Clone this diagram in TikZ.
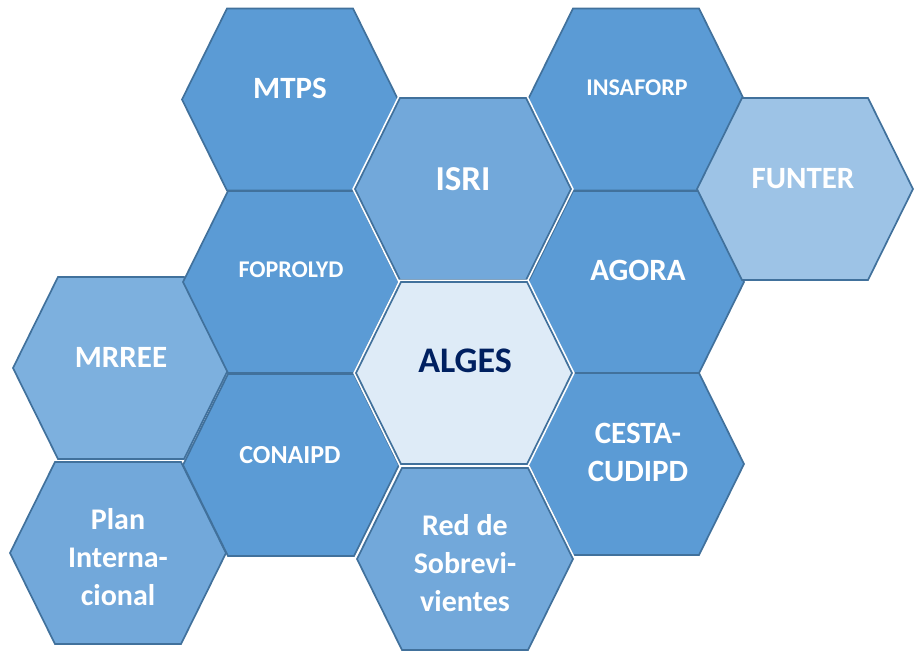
\documentclass[tikz,border=0pt]{standalone}
\usepackage{fontspec}
\setmainfont{Carlito}

\definecolor{borda}{HTML}{41719C}
\definecolor{azulA}{HTML}{5B9BD5}
\definecolor{azulB}{HTML}{72A8DA}
\definecolor{azulC}{HTML}{7DB0DE}
\definecolor{azulD}{HTML}{9DC3E6}
\definecolor{azulE}{HTML}{DEEBF7}
\definecolor{marinho}{HTML}{002060}

% hexagono: centro x, centro y, estilo
\newcommand{\hexagono}[3]{%
  \filldraw[#3] (#1-108,#2) -- (#1-63,#2-91) -- (#1+63,#2-91) -- (#1+108,#2)
    -- (#1+63,#2+91) -- (#1-63,#2+91) -- cycle;}

\begin{document}
\begin{tikzpicture}[x=1pt, y=-1pt,
  hex/.style={draw=borda, line width=1.7pt, line join=miter},
  realce/.style={hex, preaction={draw=white, line width=5pt}},
  rotulo/.style={text=white, align=center, font=\bfseries\fontsize{31}{38}\selectfont}]

\useasboundingbox (0,0) rectangle (917,651);

% Coluna da esquerda
\hexagono{121}{368}{hex, fill=azulC}
\hexagono{118}{553}{hex, fill=azulB}

% Segunda coluna
\hexagono{290}{99.5}{hex, fill=azulA}
\hexagono{291}{282}{hex, fill=azulA}
\hexagono{291}{465}{hex, fill=azulA}

% Quarta coluna
\hexagono{636}{99.5}{hex, fill=azulA}
\hexagono{636}{282}{hex, fill=azulA}
\hexagono{636}{464}{hex, fill=azulA}
\hexagono{805}{189}{hex, fill=azulD}

% Coluna central
\hexagono{463}{189}{realce, fill=azulB}
\hexagono{464}{373}{realce, fill=azulE}
\hexagono{465}{559}{realce, fill=azulB}

% Rotulos
\node[rotulo] (mtps) at (290,88) {MTPS};
\node[rotulo, font=\bfseries\fontsize{24}{30}\selectfont] (foprolyd) at (291,270) {FOPROLYD};
\node[rotulo, font=\bfseries\fontsize{26}{32}\selectfont] (conaipd) at (290,455) {CONAIPD};
\node[rotulo, font=\bfseries\fontsize{35}{42}\selectfont] (isri) at (463,179) {ISRI};
\node[rotulo, text=marinho, font=\bfseries\fontsize{36}{42}\selectfont] (alges) at (465,361) {ALGES};
\node[rotulo, font=\bfseries\fontsize{30}{38}\selectfont] (red) at (465,563) {Red de\\Sobrevi-\\vientes};
\node[rotulo, font=\bfseries\fontsize{24}{30}\selectfont] (insaforp) at (637,88) {INSAFORP};
\node[rotulo] (agora) at (638,270) {AGORA};
\node[rotulo] (cesta) at (638,452) {CESTA-\\CUDIPD};
\node[rotulo] (funter) at (803,179) {FUNTER};
\node[rotulo] (mrree) at (121,357) {MRREE};
\node[rotulo, font=\bfseries\fontsize{30}{38}\selectfont] (plan) at (118,557) {Plan\\Interna-\\cional};

\end{tikzpicture}
\end{document}
